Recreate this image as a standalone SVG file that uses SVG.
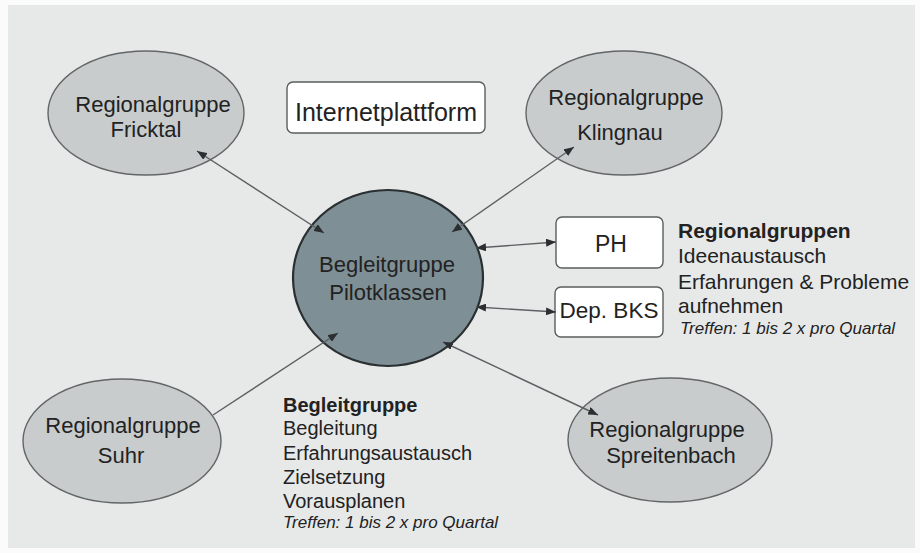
<svg xmlns="http://www.w3.org/2000/svg" width="920" height="553" viewBox="0 0 920 553">
  <defs>
    <marker id="arrow" viewBox="0 0 10 8" refX="10" refY="4" markerWidth="10" markerHeight="8" markerUnits="userSpaceOnUse" orient="auto-start-reverse">
      <path d="M0,0 L10,4 L0,8 z" fill="#2b2f31"/>
    </marker>
  </defs>
  <style>
    .bg { fill: #e7e9e9; }
    .region { fill: #c8cccd; stroke: #626667; stroke-width: 1.4; }
    .core { fill: #7e8f95; stroke: #2a2f31; stroke-width: 2.2; }
    .box { fill: #ffffff; stroke: #5a5d5e; stroke-width: 1.4; }
    .link { stroke: #5c6062; stroke-width: 1.4; fill: none; }
    text { font-family: "Liberation Sans", Arial, sans-serif; fill: #222; }
    .lbl { font-size: 22px; text-anchor: middle; }
    .note { font-size: 21px; }
    .note2 { font-size: 20px; }
    .b { font-weight: bold; }
    .it { font-style: italic; font-size: 17px; }
  </style>

  <rect x="0" y="0" width="920" height="553" fill="#fbfbfb"/>
  <rect class="bg" x="8" y="5" width="907" height="543"/>

  <g id="frictal">
    <ellipse class="region" cx="146" cy="113" rx="98" ry="62"/>
    <text class="lbl" x="153" y="112">Regionalgruppe</text>
    <text class="lbl" x="146" y="137">Fricktal</text>
  </g>

  <g id="internet">
    <rect class="box" x="287" y="82" width="198" height="51" rx="6"/>
    <text x="386" y="121" font-size="25" text-anchor="middle">Internetplattform</text>
  </g>

  <g id="klingnau">
    <ellipse class="region" cx="624" cy="113" rx="98" ry="62"/>
    <text class="lbl" x="626" y="105">Regionalgruppe</text>
    <text class="lbl" x="620" y="140">Klingnau</text>
  </g>

  <g id="begleitgruppe">
    <ellipse class="core" cx="388" cy="278" rx="95" ry="88"/>
    <text class="lbl" x="387" y="272">Begleitgruppe</text>
    <text class="lbl" x="388" y="300">Pilotklassen</text>
  </g>

  <g id="ph">
    <rect class="box" x="556" y="217" width="107" height="51" rx="6"/>
    <text x="611" y="252" font-size="23" text-anchor="middle">PH</text>
  </g>

  <g id="depbks">
    <rect class="box" x="555" y="287" width="108" height="50" rx="6"/>
    <text x="609" y="318" font-size="22.5" text-anchor="middle">Dep. BKS</text>
  </g>

  <g id="regional-note">
    <text class="note b" x="678" y="238">Regionalgruppen</text>
    <text class="note" x="678" y="263">Ideenaustausch</text>
    <text class="note" x="678" y="289">Erfahrungen &amp; Probleme</text>
    <text class="note" x="678" y="313">aufnehmen</text>
    <text class="it" x="680" y="334">Treffen: 1 bis 2 x pro Quartal</text>
  </g>

  <g id="suhr">
    <ellipse class="region" cx="122" cy="441" rx="99" ry="62"/>
    <text class="lbl" x="123" y="433">Regionalgruppe</text>
    <text class="lbl" x="121" y="463">Suhr</text>
  </g>

  <g id="spreitenbach">
    <ellipse class="region" cx="670" cy="440" rx="102" ry="62"/>
    <text class="lbl" x="667" y="437">Regionalgruppe</text>
    <text class="lbl" x="671" y="463">Spreitenbach</text>
  </g>

  <g id="begleit-note">
    <text class="note2 b" x="283" y="412">Begleitgruppe</text>
    <text class="note2" x="283" y="435">Begleitung</text>
    <text class="note2" x="283" y="460">Erfahrungsaustausch</text>
    <text class="note2" x="283" y="484">Zielsetzung</text>
    <text class="note2" x="283" y="508">Vorausplanen</text>
    <text class="it" x="283" y="528">Treffen: 1 bis 2 x pro Quartal</text>
  </g>

  <!-- connectors, drawn last so the arrowheads sit on top of the shapes -->
  <g id="connectors">
    <line class="link" x1="197" y1="151" x2="324" y2="233" marker-start="url(#arrow)" marker-end="url(#arrow)"/>
    <line class="link" x1="574" y1="147" x2="452" y2="232" marker-start="url(#arrow)" marker-end="url(#arrow)"/>
    <line class="link" x1="476" y1="248" x2="556" y2="242" marker-start="url(#arrow)" marker-end="url(#arrow)"/>
    <line class="link" x1="476" y1="307" x2="556" y2="312" marker-start="url(#arrow)" marker-end="url(#arrow)"/>
    <line class="link" x1="213" y1="415" x2="338" y2="333" marker-end="url(#arrow)"/>
    <line class="link" x1="443" y1="342" x2="598" y2="415" marker-start="url(#arrow)" marker-end="url(#arrow)"/>
  </g>
</svg>
